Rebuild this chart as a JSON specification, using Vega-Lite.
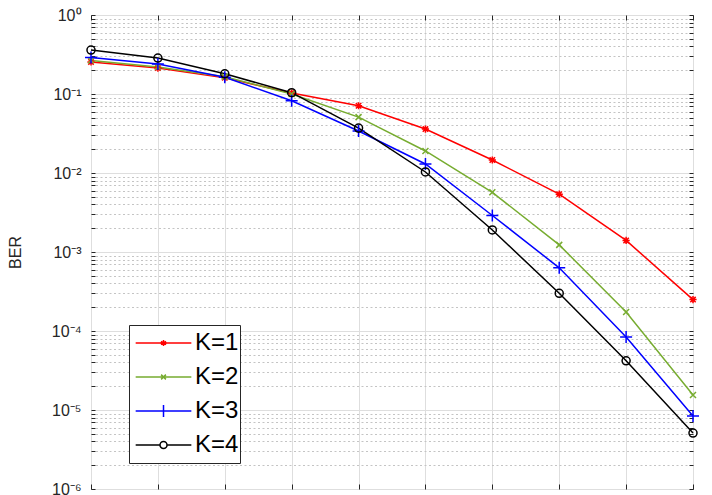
{
  "$schema": "https://vega.github.io/schema/vega-lite/v6.json",
  "width": 602,
  "height": 474,
  "autosize": "none",
  "padding": {"left": 91, "top": 15, "right": 19, "bottom": 6},
  "background": "white",
  "config": {
    "font": "Liberation Sans",
    "view": {"stroke": "#262626", "strokeWidth": 1}
  },
  "data": {
    "values": [
      {"K": "K=1", "snr": 0, "ber": 0.254},
      {"K": "K=1", "snr": 2, "ber": 0.213},
      {"K": "K=1", "snr": 4, "ber": 0.16},
      {"K": "K=1", "snr": 6, "ber": 0.103},
      {"K": "K=1", "snr": 8, "ber": 0.071},
      {"K": "K=1", "snr": 10, "ber": 0.036},
      {"K": "K=1", "snr": 12, "ber": 0.0146},
      {"K": "K=1", "snr": 14, "ber": 0.0054},
      {"K": "K=1", "snr": 16, "ber": 0.0014},
      {"K": "K=1", "snr": 18, "ber": 0.00025},
      {"K": "K=2", "snr": 0, "ber": 0.265},
      {"K": "K=2", "snr": 2, "ber": 0.22},
      {"K": "K=2", "snr": 4, "ber": 0.165},
      {"K": "K=2", "snr": 6, "ber": 0.1},
      {"K": "K=2", "snr": 8, "ber": 0.051},
      {"K": "K=2", "snr": 10, "ber": 0.019},
      {"K": "K=2", "snr": 12, "ber": 0.0057},
      {"K": "K=2", "snr": 14, "ber": 0.00123},
      {"K": "K=2", "snr": 16, "ber": 0.000174},
      {"K": "K=2", "snr": 18, "ber": 0.0000155},
      {"K": "K=3", "snr": 0, "ber": 0.29},
      {"K": "K=3", "snr": 2, "ber": 0.24},
      {"K": "K=3", "snr": 4, "ber": 0.163},
      {"K": "K=3", "snr": 6, "ber": 0.082},
      {"K": "K=3", "snr": 8, "ber": 0.034},
      {"K": "K=3", "snr": 10, "ber": 0.013},
      {"K": "K=3", "snr": 12, "ber": 0.0029},
      {"K": "K=3", "snr": 14, "ber": 0.00063},
      {"K": "K=3", "snr": 16, "ber": 0.000084},
      {"K": "K=3", "snr": 18, "ber": 0.0000084},
      {"K": "K=4", "snr": 0, "ber": 0.36},
      {"K": "K=4", "snr": 2, "ber": 0.285},
      {"K": "K=4", "snr": 4, "ber": 0.18},
      {"K": "K=4", "snr": 6, "ber": 0.104},
      {"K": "K=4", "snr": 8, "ber": 0.037},
      {"K": "K=4", "snr": 10, "ber": 0.0103},
      {"K": "K=4", "snr": 12, "ber": 0.0019},
      {"K": "K=4", "snr": 14, "ber": 0.0003},
      {"K": "K=4", "snr": 16, "ber": 0.000042},
      {"K": "K=4", "snr": 18, "ber": 0.0000051}
    ]
  },
  "encoding": {
    "x": {
      "field": "snr", "type": "quantitative",
      "scale": {"domain": [0, 18], "nice": false, "zero": false},
      "axis": null
    },
    "y": {
      "field": "ber", "type": "quantitative",
      "scale": {"type": "log", "domain": [0.000001, 1], "nice": false},
      "axis": null
    },
    "color": {
      "field": "K", "type": "nominal",
      "scale": {"domain": ["K=1", "K=2", "K=3", "K=4"], "range": ["#ff0000", "#77ac30", "#0000ff", "#000000"]}
    }
  },
  "resolve": {"axis": {"x": "independent", "y": "independent"}},
  "layer": [
    {
      "mark": {"type": "point", "opacity": 0, "size": 1},
      "encoding": {
        "x": {
          "field": "snr", "type": "quantitative",
          "axis": {"orient": "top", "title": null, "values": [0, 2, 4, 6, 8, 10, 12, 14, 16, 18],
                   "domain": false, "labels": false, "grid": false, "tickSize": -5, "tickColor": "#262626"}
        },
        "y": {
          "field": "ber", "type": "quantitative",
          "axis": {"orient": "right", "title": null,
                   "values": [0.000001,0.000002,0.000003,0.000004,0.000005,0.000006,0.000007,0.000008,0.000009,
                   0.00001,0.00002,0.00003,0.00004,0.00005,0.00006,0.00007,0.00008,0.00009,
                   0.0001,0.0002,0.0003,0.0004,0.0005,0.0006,0.0007,0.0008,0.0009,
                   0.001,0.002,0.003,0.004,0.005,0.006,0.007,0.008,0.009,
                   0.01,0.02,0.03,0.04,0.05,0.06,0.07,0.08,0.09,
                   0.1,0.2,0.3,0.4,0.5,0.6,0.7,0.8,0.9,1],
                   "domain": false, "labels": false, "grid": false, "tickSize": -4, "tickColor": "#262626"}
        },
        "color": {"value": "white"}
      }
    },
    {
      "mark": {"type": "line", "strokeWidth": 1.5},
      "encoding": {
        "x": {
          "field": "snr", "type": "quantitative",
          "axis": {
            "orient": "bottom",
            "title": null,
            "values": [0, 2, 4, 6, 8, 10, 12, 14, 16, 18],
            "domain": false, "labels": false,
            "grid": true, "gridColor": "#dedede", "gridWidth": 1,
            "tickSize": -5, "tickColor": "#262626"
          }
        },
        "y": {
          "field": "ber", "type": "quantitative",
          "axis": {
            "orient": "left",
            "title": "BER",
            "titleFontSize": 16, "titleFontWeight": "normal", "titleColor": "#262626",
            "titlePadding": 28,
            "values": [0.000001,0.000002,0.000003,0.000004,0.000005,0.000006,0.000007,0.000008,0.000009,
                       0.00001,0.00002,0.00003,0.00004,0.00005,0.00006,0.00007,0.00008,0.00009,
                       0.0001,0.0002,0.0003,0.0004,0.0005,0.0006,0.0007,0.0008,0.0009,
                       0.001,0.002,0.003,0.004,0.005,0.006,0.007,0.008,0.009,
                       0.01,0.02,0.03,0.04,0.05,0.06,0.07,0.08,0.09,
                       0.1,0.2,0.3,0.4,0.5,0.6,0.7,0.8,0.9,1],
            "domain": false,
            "grid": true,
            "gridColor": {"condition": {"test": "abs(log(datum.value)/LN10 - round(log(datum.value)/LN10)) < 0.001", "value": "#dedede"}, "value": "#c4c4c4"},
            "gridDash": {"condition": {"test": "abs(log(datum.value)/LN10 - round(log(datum.value)/LN10)) < 0.001", "value": []}, "value": [2, 2.5]},
            "tickSize": -4, "tickColor": "#262626",
            "labelExpr": "(abs(log(datum.value)/LN10 - round(log(datum.value)/LN10)) < 0.001) ? (round(log(datum.value)/LN10) == 0 ? '10⁰' : '10⁻' + ['','¹','²','³','⁴','⁵','⁶'][-round(log(datum.value)/LN10)]) : ''",
            "labelFontSize": 16, "labelColor": "#262626", "labelPadding": 14,
            "labelOverlap": false, "labelBound": false, "labelFlush": false
          }
        },
        "color": {
          "field": "K", "type": "nominal",
          "legend": {
            "title": null,
            "orient": "none", "legendX": 38, "legendY": 310,
            "fillColor": "white", "strokeColor": "#262626", "padding": 1,
            "labelFontSize": 24, "labelColor": "#000000", "labelOffset": 15,
            "labelExpr": "datum.label + '\u00a0'",
            "symbolSize": 2312, "symbolStrokeWidth": 1.5, "rowPadding": 0, "clipHeight": 34,
            "encode": {
              "symbols": {
                "update": {
                  "shape": {"signal": "datum.value == 'K=1' ? 'M-0.804,0H1.512M0.354,-0.125V0.125M0.246,-0.0625L0.462,0.0625M0.246,0.0625L0.462,-0.0625' : datum.value == 'K=2' ? 'M-0.804,0H1.512M0.254,-0.1L0.454,0.1M0.254,0.1L0.454,-0.1' : datum.value == 'K=3' ? 'M-0.804,0H1.512M0.354,-0.25V0.25' : 'M-0.804,0H0.208M0.5,0H1.512M0.5,0A0.146,0.146 0 1,1 0.208,0A0.146,0.146 0 1,1 0.5,0'"},
                  "fill": {"value": "transparent"}
                }
              }
            }
          }
        }
      }
    },
    {
      "transform": [{"filter": "datum.K == 'K=1'"}],
      "mark": {"type": "point", "filled": false, "size": 144, "strokeWidth": 1.5, "opacity": 1,
               "shape": "M-0.6,0H0.6M0,-0.6V0.6M-0.45,-0.45L0.45,0.45M-0.45,0.45L0.45,-0.45"},
      "encoding": {"color": {"field": "K", "type": "nominal", "legend": null}}
    },
    {
      "transform": [{"filter": "datum.K == 'K=2'"}],
      "mark": {"type": "point", "filled": false, "size": 144, "strokeWidth": 1.5, "opacity": 1,
               "shape": "M-0.5,-0.5L0.5,0.5M-0.5,0.5L0.5,-0.5"},
      "encoding": {"color": {"field": "K", "type": "nominal", "legend": null}}
    },
    {
      "transform": [{"filter": "datum.K == 'K=3'"}],
      "mark": {"type": "point", "filled": false, "size": 144, "strokeWidth": 1.5, "opacity": 1,
               "shape": "M-1,0H1M0,-1V1"},
      "encoding": {"color": {"field": "K", "type": "nominal", "legend": null}}
    },
    {
      "transform": [{"filter": "datum.K == 'K=4'"}],
      "mark": {"type": "point", "filled": false, "size": 144, "strokeWidth": 1.5, "opacity": 1,
               "shape": "M0.67,0A0.67,0.67 0 1,1 -0.67,0A0.67,0.67 0 1,1 0.67,0"},
      "encoding": {"color": {"field": "K", "type": "nominal", "legend": null}}
    }
  ]
}
